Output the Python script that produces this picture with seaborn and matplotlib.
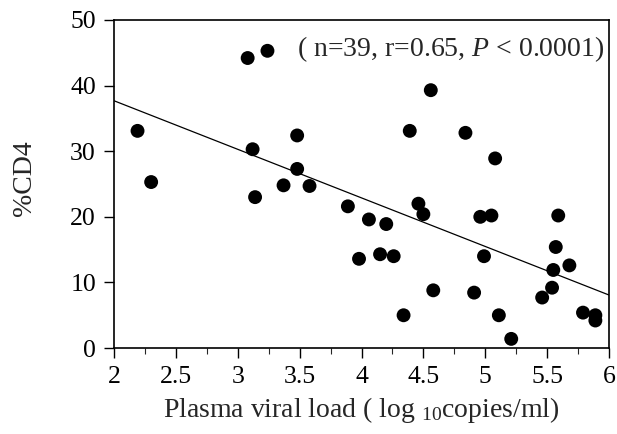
import matplotlib
matplotlib.use("Agg")
import matplotlib.pyplot as plt
import seaborn as sns
import pandas as pd
from matplotlib.ticker import MultipleLocator

viral_load = [2.19, 2.30, 3.08, 3.24, 3.12, 3.14, 3.37, 3.48, 3.48, 3.58,
              3.89, 3.98, 4.06, 4.15, 4.20, 4.26, 4.34, 4.39, 4.46, 4.50,
              4.56, 4.58, 4.84, 4.91, 4.96, 4.99, 5.05, 5.08, 5.11, 5.21,
              5.46, 5.54, 5.55, 5.57, 5.59, 5.68, 5.79, 5.89, 5.89]
cd4_pct = [33.1, 25.3, 44.2, 45.3, 30.3, 23.0, 24.8, 32.4, 27.3, 24.7,
           21.6, 13.6, 19.6, 14.3, 18.9, 14.0, 5.0, 33.1, 22.0, 20.4,
           39.3, 8.8, 32.8, 8.45, 20.0, 14.0, 20.2, 28.9, 5.0, 1.4,
           7.7, 9.2, 11.9, 15.4, 20.2, 12.6, 5.4, 5.0, 4.2]
x_ticks = [2, 2.5, 3, 3.5, 4, 4.5, 5, 5.5, 6]
x_tick_labels = ["2", "2.5", "3", "3.5", "4", "4.5", "5", "5.5", "6"]
y_ticks = [0, 10, 20, 30, 40, 50]
stats_text = r"( n=39, r=0.65, $P$ < 0.0001)"
x_label = r"Plasma viral load ( log $_{10}$copies/ml)"
y_label = "%CD4"

df = pd.DataFrame({"vl": viral_load, "cd4": cd4_pct})

sns.set_style("ticks")
plt.rcParams["font.family"] = ["Liberation Serif", "DejaVu Serif"]
plt.rcParams["mathtext.fontset"] = "custom"
plt.rcParams["mathtext.rm"] = "Liberation Serif"
plt.rcParams["mathtext.it"] = "Liberation Serif:italic"

fig = plt.figure(figsize=(6.17, 4.34), dpi=100)
ax = fig.add_axes([0.1848, 0.198, 0.8022, 0.756])
ax.set_xlim(2, 6)
ax.set_ylim(0, 50)

sns.regplot(data=df, x="vl", y="cd4", ax=ax, ci=None, truncate=False,
            scatter_kws=dict(s=100, color="black", edgecolor="none", alpha=1),
            line_kws=dict(color="black", lw=0.9))

ax.set_xlim(2, 6)
ax.set_ylim(0, 50)
ax.set_xticks(x_ticks)
ax.set_xticklabels(x_tick_labels)
ax.set_yticks(y_ticks)
ax.xaxis.set_minor_locator(MultipleLocator(0.25))
ax.tick_params(axis="both", which="major", direction="out", length=7,
               width=1, labelsize=18.5, colors="black", pad=6)
ax.tick_params(axis="x", which="minor", direction="out", length=4, width=0.8)
for sp in ax.spines.values():
    sp.set_visible(True)
    sp.set_color("black")
    sp.set_linewidth(1.2)

ax.set_xlabel(x_label, fontsize=20, labelpad=5)
ax.set_ylabel(y_label, fontsize=20)
ax.yaxis.set_label_coords(-0.155, 0.518)
ax.text(5.96, 45.6, stats_text, ha="right", va="center", fontsize=20)

fig.savefig("out.png", dpi=100)
